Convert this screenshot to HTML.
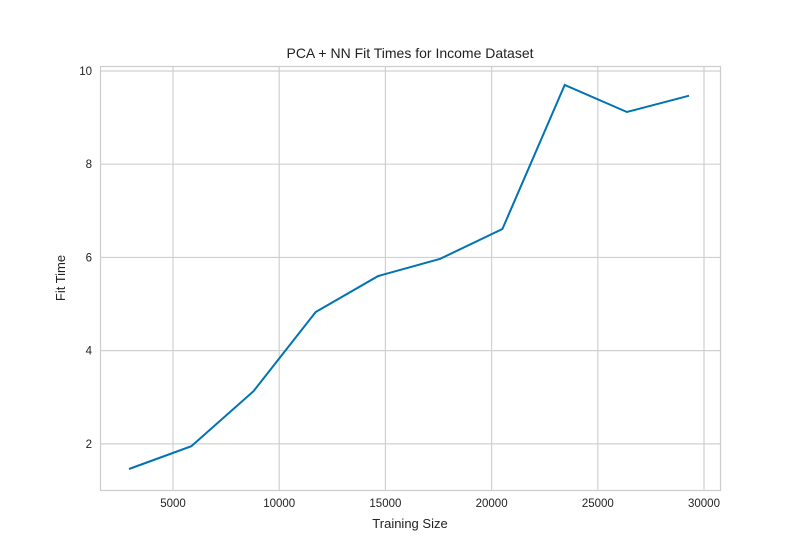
<!DOCTYPE html>
<html><head><meta charset="utf-8"><style>
body{margin:0;background:#fff;}
svg{display:block;font-family:"Liberation Sans","DejaVu Sans",sans-serif;}
</style></head><body>
<svg id="chart" width="800" height="550">
<rect x="0" y="0" width="800" height="550" fill="#fff"/>
<g id="grid"></g>
<g id="ticks"></g>
<rect x="100.5" y="66.5" width="620" height="424" fill="none" stroke="#cccccc" stroke-width="1.2"/>
<path id="line" fill="none" stroke="#0173b2" stroke-width="2"/>
<text x="410" y="58" text-anchor="middle" font-size="14" fill="#222">PCA + NN Fit Times for Income Dataset</text>
<text x="410" y="528" text-anchor="middle" font-size="13" fill="#222">Training Size</text>
<text x="0" y="0" transform="translate(65,278) rotate(-90)" text-anchor="middle" font-size="13" fill="#222">Fit Time</text>
</svg>
<script>
const trainSizes=[2930,5860,8790,11720,14650,17580,20510,23440,26370,29300];
const fitTimes=[1.46,1.95,3.13,4.83,5.6,5.97,6.61,9.7,9.12,9.47];
const xTicks=[5000,10000,15000,20000,25000,30000];
const yTicks=[2,4,6,8,10];
const L=100,R=720,T=66,B=490,xMin=1563,xMax=30753,yMin=1.01,yMax=10.107;
function sx(v){return L+(v-xMin)/(xMax-xMin)*(R-L);}
function sy(v){return B-(v-yMin)/(yMax-yMin)*(B-T);}
const ns="http://www.w3.org/2000/svg";
const grid=document.getElementById('grid'),ticks=document.getElementById('ticks');
xTicks.forEach(t=>{
 const l=document.createElementNS(ns,'line');
 l.setAttribute('x1',sx(t));l.setAttribute('x2',sx(t));l.setAttribute('y1',T);l.setAttribute('y2',B);
 l.setAttribute('stroke','#d0d0d0');l.setAttribute('stroke-width','1.2');
 
 
 grid.appendChild(l);
 const tx=document.createElementNS(ns,'text');
 tx.setAttribute('x',sx(t));tx.setAttribute('y',B+17);tx.setAttribute('text-anchor','middle');
 tx.setAttribute('font-size','11.5');tx.setAttribute('fill','#222');tx.textContent=t;
 
 
 ticks.appendChild(tx);
});
yTicks.forEach(t=>{
 const l=document.createElementNS(ns,'line');
 l.setAttribute('x1',L);l.setAttribute('x2',R);l.setAttribute('y1',sy(t));l.setAttribute('y2',sy(t));
 l.setAttribute('stroke','#d0d0d0');l.setAttribute('stroke-width','1.2');
 
 
 grid.appendChild(l);
 const tx=document.createElementNS(ns,'text');
 tx.setAttribute('x',L-8);tx.setAttribute('y',sy(t)+4);tx.setAttribute('text-anchor','end');
 tx.setAttribute('font-size','11.5');tx.setAttribute('fill','#222');tx.textContent=t;
 
 
 ticks.appendChild(tx);
});
document.getElementById('line').setAttribute('d',trainSizes.map((x,i)=>(i?'L':'M')+sx(x).toFixed(1)+','+sy(fitTimes[i]).toFixed(1)).join(' '));
</script>
</body></html>
